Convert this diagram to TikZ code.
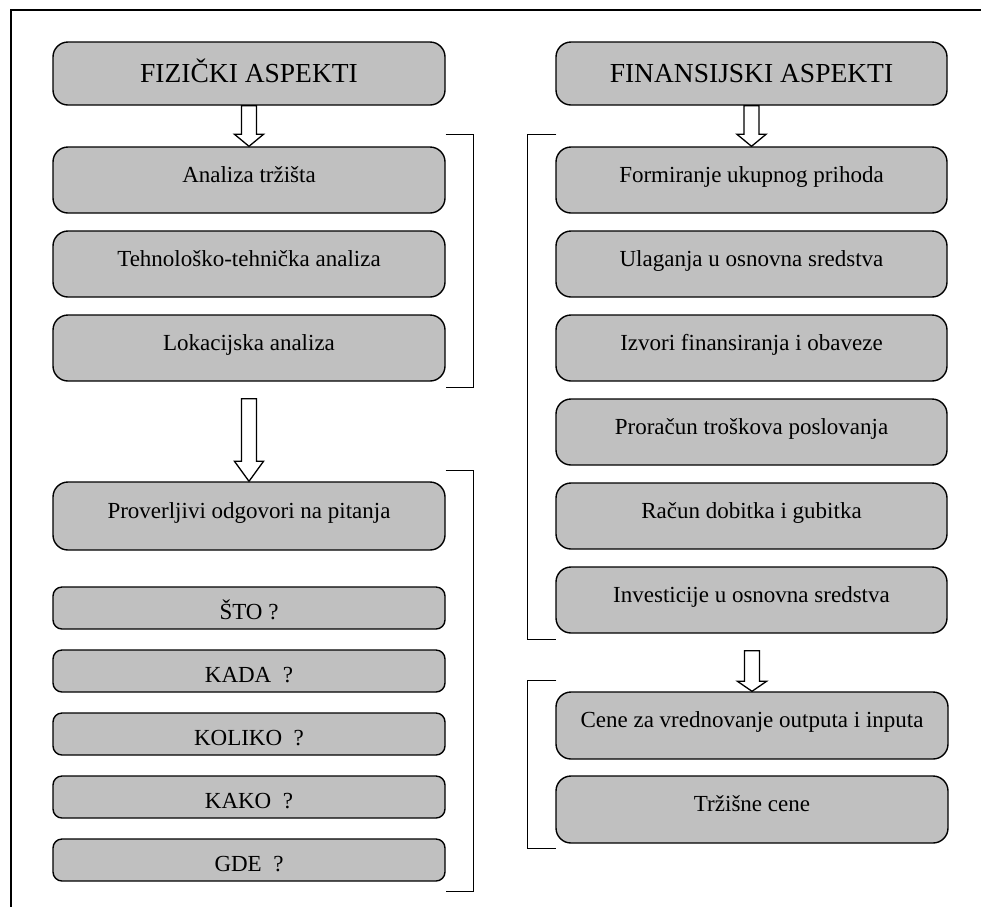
\documentclass[tikz,border=0pt]{standalone}
\usepackage{fontspec}
\setmainfont{Liberation Serif}
\usetikzlibrary{calc}
\definecolor{boxgray}{HTML}{C0C0C0}

% block arrow: shaft from below #1 (offset #3), head of length #4 ending on top of #2
\newcommand{\blockarrow}[4]{%
  \draw[barrow] let \p1=(#1.south), \p2=(#2.north) in
    (\x2-7.5pt,\y1-#3) -- (\x2+7.5pt,\y1-#3) -- (\x2+7.5pt,\y2+#4) --
    (\x2+14.5pt,\y2+#4) -- (\x2,\y2) -- (\x2-14.5pt,\y2+#4) --
    (\x2-7.5pt,\y2+#4) -- cycle;}

\tikzset{
  basebox/.style={draw=black, line width=1.4pt, fill=boxgray, inner sep=0pt,
    font=\fontsize{23}{27}\selectfont, align=center},
  titlebox/.style={basebox, rounded corners=15pt, minimum height=63pt,
    text height=20pt, text depth=3pt, font=\fontsize{27.5}{32}\selectfont},
  tallbox/.style={basebox, rounded corners=15pt, minimum height=66pt,
    text height=12pt, text depth=8pt},
  qbox/.style={basebox, rounded corners=9pt, minimum height=42pt,
    text height=24pt, text depth=2pt},
  leftcol/.style={minimum width=392pt},
  rightcol/.style={minimum width=391pt},
  barrow/.style={draw=black, line width=1.3pt, fill=white, line join=miter},
  bracket/.style={draw=black, line width=1.4pt},
  frame/.style={draw=black, line width=2pt}
}

\begin{document}
\begin{tikzpicture}[x=1pt,y=-1pt]
\useasboundingbox (0,0) rectangle (981,906);
\clip (0,0) rectangle (981,906);
\fill[white] (0,0) rectangle (981,906);

% outer frame (continues past the page edges)
\draw[frame] (11,9.5) rectangle (1010,940);

% left column
\node[titlebox,leftcol] (fiz) at (249,73.5) {FIZIČKI ASPEKTI};
\node[tallbox,leftcol] (an) at (249,180) {Analiza tržišta};
\node[tallbox,leftcol] (teh) at (249,264) {Tehnološko-tehnička analiza};
\node[tallbox,leftcol] (lok) at (249,348) {Lokacijska analiza};
\node[tallbox,leftcol,minimum height=68pt] (prov) at (249,516) {Proverljivi odgovori na pitanja};
\node[qbox,leftcol] (sto) at (249,608) {ŠTO ?};
\node[qbox,leftcol] (kada) at (249,671) {KADA\ \ ?};
\node[qbox,leftcol] (kol) at (249,734) {KOLIKO\ \ ?};
\node[qbox,leftcol] (kako) at (249,797) {KAKO\ \ ?};
\node[qbox,leftcol] (gde) at (249,860) {GDE\ \ ?};

% right column
\node[titlebox,rightcol] (fin) at (751.5,73.5) {FINANSIJSKI ASPEKTI};
\node[tallbox,rightcol] (form) at (751.5,180) {Formiranje ukupnog prihoda};
\node[tallbox,rightcol] (ul) at (751.5,264) {Ulaganja u osnovna sredstva};
\node[tallbox,rightcol] (izv) at (751.5,348) {Izvori finansiranja i obaveze};
\node[tallbox,rightcol] (pro) at (751.5,432) {Proračun troškova poslovanja};
\node[tallbox,rightcol] (rac) at (751.5,516) {Račun dobitka i gubitka};
\node[tallbox,rightcol] (inv) at (751.5,600) {Investicije u osnovna sredstva};
\node[tallbox,minimum width=392pt,minimum height=67pt] (cene) at (752,725.5) {Cene za vrednovanje outputa i inputa};
\node[tallbox,minimum width=392pt,minimum height=67pt] (trz) at (752,809.5) {Tržišne cene};

% block arrows
\blockarrow{fiz}{an}{0pt}{12pt}
\blockarrow{lok}{prov}{17pt}{20pt}
\blockarrow{fin}{form}{0pt}{12pt}
\blockarrow{inv}{cene}{17pt}{10pt}

% group brackets
\draw[bracket] ($(an.north east)+(0,-12)$) -- ++(28,0) |- ($(lok.south east)+(0,6)$);
\draw[bracket] ($(prov.north east)+(0,-11)$) -- ++(28,0) |- ($(gde.south east)+(0,10)$);
\draw[bracket] ($(form.north west)+(1,-12)$) -- ++(-29,0) |- ($(inv.south west)+(1,6)$);
\draw[bracket] ($(cene.north west)+(1,-11)$) -- ++(-29,0) |- ($(trz.south west)+(1,5)$);
\end{tikzpicture}
\end{document}
